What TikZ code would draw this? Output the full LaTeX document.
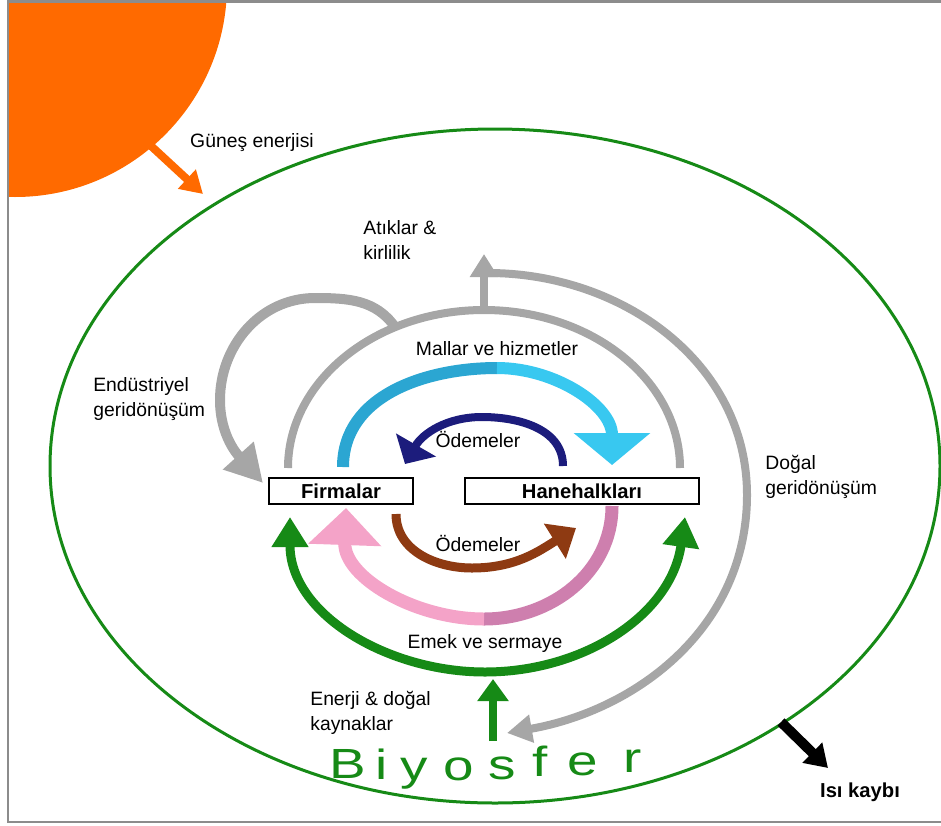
\documentclass[tikz,border=0pt]{standalone}
\usepackage{fontspec}
\setmainfont{Liberation Sans}
\usepackage{tikz}
\usetikzlibrary{arrows.meta, positioning}
\definecolor{gunes}{HTML}{FF6A00}
\definecolor{yesil}{HTML}{168A16}
\definecolor{gri}{HTML}{A6A6A6}
\definecolor{cerceve}{HTML}{8C8C8C}
\definecolor{cyanA}{HTML}{2BA6D2}
\definecolor{cyanB}{HTML}{38C8F0}
\definecolor{lacivert}{HTML}{1C1C7C}
\definecolor{kahve}{HTML}{8E3A12}
\definecolor{pembeA}{HTML}{F4A3C8}
\definecolor{pembeB}{HTML}{CE7FAE}

\begin{document}
\begin{tikzpicture}[x=0.2mm, y=-0.2mm]
      \tikzset{
        kutu/.style={rectangle, draw=black, line width=0.3mm, fill=white, inner sep=0pt,
                     minimum height=5.2mm, font=\bfseries\fontsize{11.5}{13}\selectfont},
        etiket/.style={font=\fontsize{11}{14.2}\selectfont, align=left, inner sep=0pt},
        akis/.style={line width=#1, line cap=butt}
      }

      \useasboundingbox (0,0) rectangle (941,825);

      % Gunes ve cerceve
      \begin{scope}
        \clip (8,2) rectangle (941,822);
        \fill[gunes] (15,-15) circle[radius=212];
      \end{scope}
      \draw[cerceve, line width=0.5mm] (941,1.5) -- (8,1.5) -- (8,822) -- (941,822);

      % Biyosfer
      \draw[yesil, line width=0.6mm] (495,466) ellipse[x radius=445, y radius=337];

      \coordinate (atikSol) at (288,468);
      \coordinate (atikTepe) at (484,310);
      \coordinate (atikUc) at (484,254);
      \coordinate (dogalBas) at (488,273);
      \coordinate (dogalSag) at (747,495);
      \coordinate (dogalUc) at (507,733);
      \coordinate (endBas) at (395,327);
      \coordinate (endUc) at (263,483);
      \coordinate (gunesBas) at (150,145);
      \coordinate (gunesUc) at (203,194);
      \coordinate (isiBas) at (781,722);
      \coordinate (isiUc) at (828,768);
      \coordinate (kaynakBas) at (493,741);
      \coordinate (kaynakUc) at (493,679);

      % Gri akislar
      \draw[gri, akis=1.6mm] (atikSol) arc[start angle=180, end angle=360, x radius=196, y radius=158];
      \draw[gri, akis=1.6mm, -{Triangle[width=5.4mm,length=4.6mm]}] (atikTepe) -- (atikUc);
      \draw[gri, akis=1.6mm, -{Triangle[width=5.4mm,length=5mm]}]
        (dogalBas) to[out=0,in=90] (dogalSag) to[out=270,in=10] (dogalUc);
      \draw[gri, akis=2mm, -{Triangle[width=7.8mm,length=7.4mm]}]
        (endBas) to[out=125,in=0] (315,298) to[out=180,in=90] (220,400) to[out=270,in=132] (endUc);

      % Mallar ve hizmetler
      \draw[cyanA, akis=2.4mm] (343,467) to[out=90,in=180] (497,368);
      \draw[cyanB, akis=2.4mm, -{Triangle[width=15mm,length=6.4mm]}] (497,368) to[out=0,in=90] (612,465);

      % Odemeler
      \draw[lacivert, akis=1.6mm, -{Triangle[width=9mm,length=4.4mm]}]
        (563,466) to[out=90,in=0] (482,417) to[out=180,in=60] (405,464);
      \draw[kahve, akis=1.8mm, -{Triangle[width=8mm,length=5mm]}]
        (396,514) to[out=270,in=180] (472,568) to[out=0,in=212] (576,528);

      % Emek ve sermaye
      \draw[pembeB, akis=2.6mm] (612,506) to[out=270,in=0] (484,619);
      \draw[pembeA, akis=2.6mm, -{Triangle[width=14.2mm,length=7.4mm]}] (484,619) to[out=180,in=268] (346,508);
      \draw[yesil, akis=1.8mm, {Triangle[width=7mm,length=6mm]}-{Triangle[width=7mm,length=6mm]}]
        (290,517) to[out=270,in=180] (485,672) to[out=0,in=262] (685,517);

      % Enerji akislari
      \draw[yesil, akis=1.6mm, -{Triangle[width=6mm,length=4.4mm]}] (kaynakBas) -- (kaynakUc);
      \draw[gunes, akis=1.6mm, -{Triangle[width=5mm,length=4.4mm]}] (gunesBas) -- (gunesUc);
      \draw[black, akis=2mm, -{Triangle[width=5.4mm,length=4.4mm]}] (isiBas) -- (isiUc);

      % Kutular
      \node[kutu, minimum width=28.8mm] (firma) at (341,491) {Firmalar};
      \node[kutu, minimum width=46.8mm] (hane) at (582,491) {Hanehalkları};

      % Etiketler
      \node[etiket] (gunesYazi) at (252,143) {Güneş enerjisi};
      \node[etiket, anchor=west] (atik) at (363,240) {Atıklar \&\\kirlilik};
      \node[etiket, anchor=west] (endustri) at (93,399) {Endüstriyel\\geridönüşüm};
      \node[etiket, anchor=west] (dogal) at (765,477) {Doğal\\geridönüşüm};
      \node[etiket] (mallar) at (497,349) {Mallar ve hizmetler};
      \node[etiket] (odemeUst) at (478,439) {Ödemeler};
      \node[etiket] (odemeAlt) at (478,543) {Ödemeler};
      \node[etiket] (emek) at (485,643) {Emek ve sermaye};
      \node[etiket, anchor=west] (enerji) at (310,713) {Enerji \& doğal\\kaynaklar};
      \node[etiket, font=\bfseries\fontsize{11.5}{13}\selectfont] (isi) at (860,792) {Isı kaybı};

      \foreach \harf/\bx/\by [count=\k] in {B/348/778, i/382/779, y/414/780, o/459/780,
                                             s/502/779, f/540/776, e/583/775, r/633/772}
        \node[text=yesil, font=\fontsize{24}{24}\selectfont, inner sep=0pt, anchor=base]
          (biyo\k) at (\bx,\by) {\scalebox{1.3}[1]{\harf}};

    \end{tikzpicture}
\end{document}
